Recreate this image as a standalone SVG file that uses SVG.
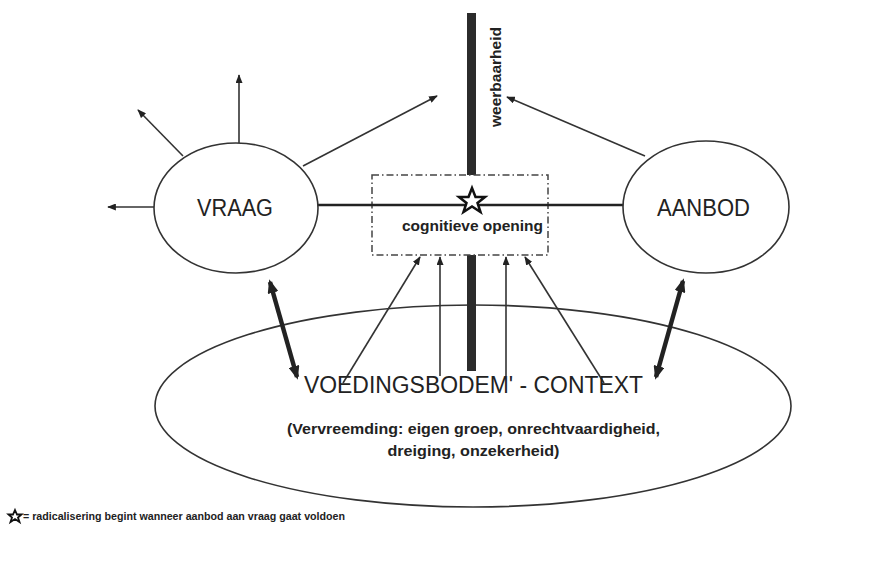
<svg xmlns="http://www.w3.org/2000/svg" width="876" height="561" viewBox="0 0 876 561">
<style>
.ln{stroke:#333;stroke-width:1.6;fill:none}
.thick{stroke:#222;stroke-width:4.5;fill:none}
.ell{fill:#fff;stroke:#333;stroke-width:1.6}
.t{font-family:"Liberation Sans",Arial,sans-serif;fill:#222}
</style>
<defs>
<marker id="ah" viewBox="0 0 10 8" refX="9" refY="4" markerWidth="9" markerHeight="7" markerUnits="userSpaceOnUse" orient="auto">
<path d="M0,0 L10,4 L0,8 z" fill="#222"/>
</marker>
<marker id="ahb" viewBox="0 0 10 8" refX="8" refY="4" markerWidth="14" markerHeight="11" markerUnits="userSpaceOnUse" orient="auto-start-reverse">
<path d="M0,0 L10,4 L0,8 z" fill="#222"/>
</marker>
</defs>
<rect width="876" height="561" fill="#fff"/>

<g id="context">
<ellipse class="ell" cx="473" cy="406" rx="318" ry="101" fill="none"/>
</g>

<g id="weerbaarheid">
<rect x="467" y="13" width="9" height="358" fill="#2b2b2b"/>
<text class="t" transform="translate(501,77) rotate(-90)" text-anchor="middle" font-size="15" font-weight="bold" textLength="100" lengthAdjust="spacingAndGlyphs">weerbaarheid</text>
</g>

<g id="connectors">
<line class="ln" x1="183" y1="156" x2="138" y2="110" marker-end="url(#ah)"/>
<line class="ln" x1="239" y1="143" x2="239" y2="75" marker-end="url(#ah)"/>
<line class="ln" x1="303" y1="166" x2="437" y2="96" marker-end="url(#ah)"/>
<line class="ln" x1="154" y1="207" x2="108" y2="207" marker-end="url(#ah)"/>
<line class="ln" x1="645" y1="156" x2="507" y2="97" marker-end="url(#ah)"/>
<line class="ln" x1="343" y1="383" x2="420" y2="257" marker-end="url(#ah)"/>
<line class="ln" x1="440" y1="376" x2="440" y2="257" marker-end="url(#ah)"/>
<line class="ln" x1="506" y1="376" x2="506" y2="257" marker-end="url(#ah)"/>
<line class="ln" x1="604" y1="383" x2="525" y2="257" marker-end="url(#ah)"/>
<line class="thick" x1="270" y1="282" x2="297" y2="377" marker-start="url(#ahb)" marker-end="url(#ahb)"/>
<line class="thick" x1="683" y1="281" x2="656" y2="377" marker-start="url(#ahb)" marker-end="url(#ahb)"/>
</g>

<g id="cognitieve-opening">
<rect x="372" y="175" width="176" height="80" fill="#fff" stroke="#444" stroke-width="1.5" stroke-dasharray="7 3 1.5 3"/>
<line x1="318" y1="205" x2="624" y2="205" stroke="#222" stroke-width="2.5"/>
<polygon points="472,188 475.5,197 485,197 477.5,203 480.5,212 472,206.5 463.5,212 466.5,203 459,197 468.5,197" fill="#fff" stroke="#111" stroke-width="2.5" stroke-linejoin="miter"/>
<text class="t" x="472.5" y="231" text-anchor="middle" font-size="14" font-weight="bold" textLength="141" lengthAdjust="spacingAndGlyphs">cognitieve opening</text>
</g>

<g id="vraag">
<ellipse class="ell" cx="236" cy="208" rx="82" ry="65"/>
<text class="t" x="235" y="216" text-anchor="middle" font-size="23" textLength="76" lengthAdjust="spacingAndGlyphs">VRAAG</text>
</g>

<g id="aanbod">
<ellipse class="ell" cx="706" cy="207" rx="83" ry="66"/>
<text class="t" x="703.5" y="216" text-anchor="middle" font-size="23" textLength="93" lengthAdjust="spacingAndGlyphs">AANBOD</text>
</g>

<g id="context-text">
<text class="t" x="473.5" y="393" text-anchor="middle" font-size="23" textLength="339" lengthAdjust="spacingAndGlyphs">VOEDINGSBODEM' - CONTEXT</text>
<text class="t" x="473.5" y="434" text-anchor="middle" font-size="15" font-weight="bold" textLength="373" lengthAdjust="spacingAndGlyphs">(Vervreemding: eigen  groep, onrechtvaardigheid,</text>
<text class="t" x="473.5" y="456" text-anchor="middle" font-size="15" font-weight="bold" textLength="172" lengthAdjust="spacingAndGlyphs">dreiging, onzekerheid)</text>
</g>

<g id="footnote">
<polygon points="15,510 17,514.5 21.5,514.5 18,517.5 19.5,522 15,519 10.5,522 12,517.5 8.5,514.5 13,514.5" fill="#fff" stroke="#111" stroke-width="1.8"/>
<text class="t" x="23" y="520" font-size="10" font-weight="bold" textLength="322" lengthAdjust="spacingAndGlyphs">= radicalisering begint wanneer aanbod aan vraag gaat voldoen</text>
</g>
</svg>
